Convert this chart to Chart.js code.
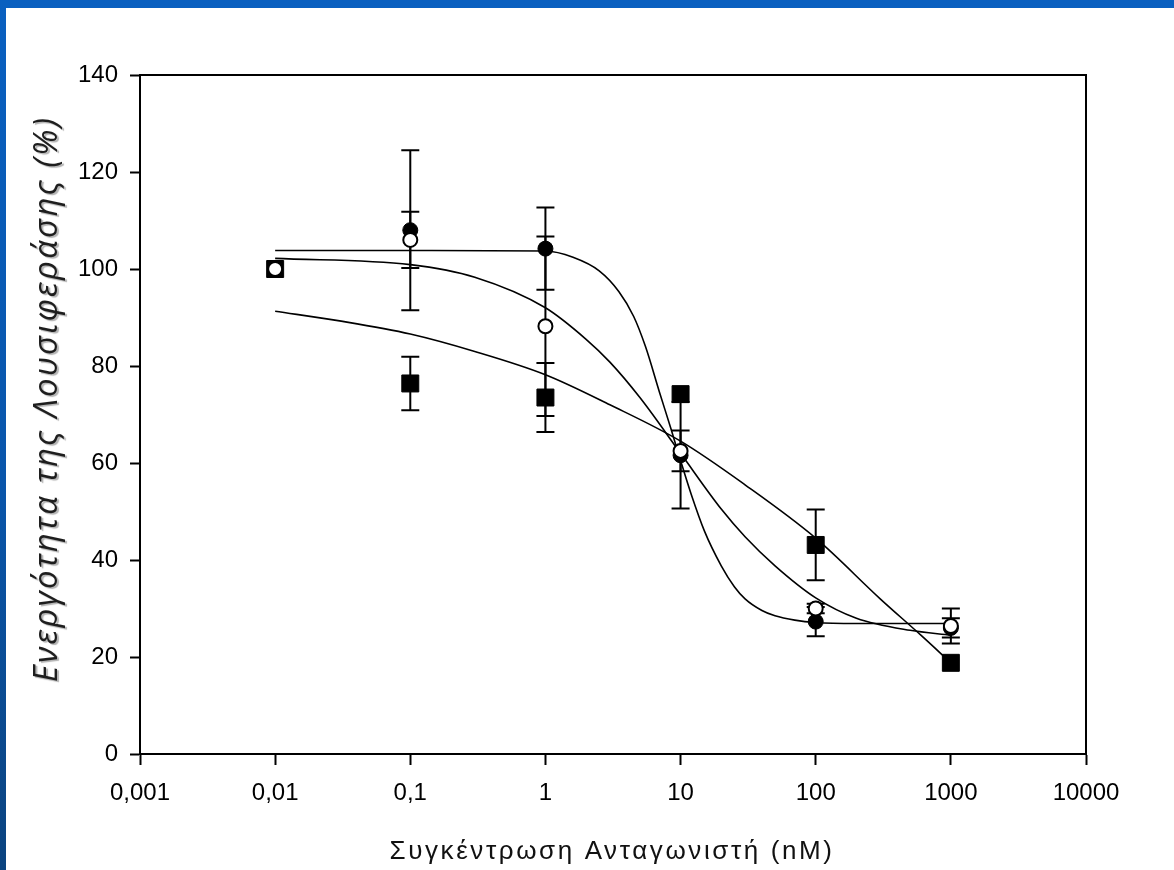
<!DOCTYPE html>
<html lang="el">
<head>
<meta charset="utf-8">
<title>Ενεργότητα της Λουσιφεράσης</title>
<script src="https://cdn.jsdelivr.net/npm/chart.js@4.4.1/dist/chart.umd.min.js"></script>
<style>
  html, body { margin: 0; padding: 0; width: 1174px; height: 870px; overflow: hidden; }
  body { position: relative; background: linear-gradient(180deg, #0a60c0 0%, #0a56ab 55%, #0b437f 100%); }
  #frame { position: absolute; left: 6px; top: 8px; width: 1168px; height: 862px; background: #ffffff; }
  canvas { display: block; }
</style>
</head>
<body>
<div id="frame"><canvas id="chart" width="1168" height="862"></canvas></div>
<script>
// Antagonist concentrations (nM) and measured luciferase activity (%)
const concentrations = [0.01, 0.1, 1, 10, 100, 1000];

const filledMeans  = [100, 108, 104.2, 61.6, 27.3, 26];
const filledErrors = [0, 16.5, 8.5, 11, 3, 2];

const openMeans  = [100, 106, 88.2, 62.5, 30, 26.4];
const openErrors = [0, 5.8, 18.5, 4.2, 1, 3.6];

const squareMeans  = [100, 76.4, 73.5, 74.2, 43.1, 18.8];
const squareErrors = [0, 5.5, 7.1, 0, 7.3, 0];

// Fitted dose-response curves
const fitFilledX = [0.01, 0.1, 1, 1.6, 2.5, 3.5, 4.5, 5.5, 7, 8.5, 10, 12, 15, 20, 25, 30, 40, 50, 70, 100, 200, 1000];
const fitFilledY = [103.8, 103.8, 103.7, 102.4, 99.6, 95.3, 90.2, 84, 74.5, 67, 60.5, 53.5, 46, 38.8, 34.5, 32, 29.6, 28.5, 27.6, 27.1, 26.9, 26.9];

const fitOpenX = [0.01, 0.1, 0.3, 1, 2, 3, 5, 10, 20, 30, 50, 100, 200, 500, 1000];
const fitOpenY = [102.2, 100.9, 98.3, 92, 85.5, 80.8, 73.5, 62, 50.5, 44.8, 38.8, 32.2, 28, 25.5, 24.5];

const fitSquareX = [0.01, 0.03, 0.1, 0.3, 1, 3, 10, 30, 100, 300, 600, 1000];
const fitSquareY = [91.3, 89.3, 86.6, 83, 78.2, 72, 64.5, 55.5, 44.5, 32, 24.5, 18.8];

// Axis ticks
const xTickValues = [0.001, 0.01, 0.1, 1, 10, 100, 1000, 10000];
const xTickLabels = ['0,001', '0,01', '0,1', '1', '10', '100', '1000', '10000'];
const yTickValues = [0, 20, 40, 60, 80, 100, 120, 140];

const xTitle = 'Συγκέντρωση Ανταγωνιστή (nM)';
const yTitle = 'Ενεργότητα της Λουσιφεράσης (%)';

const pairs = (xs, ys) => xs.map((x, i) => ({ x: x, y: ys[i] }));

// Vertical error bars with caps, drawn beneath the markers
const errorBars = {
  id: 'errorBars',
  beforeDatasetsDraw(chart) {
    const { ctx, scales: { x, y } } = chart;
    ctx.save();
    ctx.strokeStyle = '#000';
    ctx.lineWidth = 2;
    chart.data.datasets.forEach(ds => {
      if (!ds.errors) return;
      ds.data.forEach((p, j) => {
        const e = ds.errors[j];
        if (!e) return;
        const px = x.getPixelForValue(p.x);
        const top = y.getPixelForValue(p.y + e);
        const bot = y.getPixelForValue(p.y - e);
        ctx.beginPath();
        ctx.moveTo(px, top); ctx.lineTo(px, bot);
        ctx.moveTo(px - 9, top); ctx.lineTo(px + 9, top);
        ctx.moveTo(px - 9, bot); ctx.lineTo(px + 9, bot);
        ctx.stroke();
      });
    });
    ctx.restore();
  }
};

// Closing frame on the top and right of the plot area, plus axis titles
const frameAndTitles = {
  id: 'frameAndTitles',
  afterDraw(chart) {
    const { ctx, chartArea: a } = chart;
    ctx.save();
    ctx.strokeStyle = '#000';
    ctx.lineWidth = 2;
    ctx.beginPath();
    ctx.moveTo(a.left, a.top);
    ctx.lineTo(a.right, a.top);
    ctx.lineTo(a.right, a.bottom);
    ctx.stroke();

    ctx.fillStyle = '#111';
    ctx.font = '26px "Liberation Sans", Arial, sans-serif';
    ctx.textAlign = 'center';
    ctx.textBaseline = 'middle';
    ctx.letterSpacing = '2.6px';
    ctx.fillText(xTitle, 606, 844);
    ctx.restore();

    ctx.save();
    ctx.translate(42, 391);
    ctx.rotate(-Math.PI / 2);
    ctx.shadowColor = 'rgba(0,0,0,0.3)';
    ctx.shadowOffsetX = 1.5;
    ctx.shadowOffsetY = 1.5;
    ctx.shadowBlur = 1;
    ctx.fillStyle = '#1e1e1e';
    ctx.font = 'italic 33px "Open Sans", sans-serif';
    ctx.letterSpacing = '2.2px';
    ctx.textAlign = 'center';
    ctx.textBaseline = 'middle';
    ctx.fillText(yTitle, 0, 0);
    ctx.restore();
  }
};

new Chart(document.getElementById('chart'), {
  type: 'scatter',
  data: {
    datasets: [
      {
        label: 'open',
        data: pairs(concentrations, openMeans),
        errors: openErrors,
        pointStyle: 'circle',
        pointRadius: 7,
        pointBackgroundColor: '#ffffff',
        pointBorderColor: '#000000',
        pointBorderWidth: 2,
        showLine: false,
        order: 1
      },
      {
        label: 'filled',
        data: pairs(concentrations, filledMeans),
        errors: filledErrors,
        pointStyle: 'circle',
        pointRadius: 7.5,
        pointBackgroundColor: '#000000',
        pointBorderColor: '#000000',
        pointBorderWidth: 1,
        showLine: false,
        order: 2
      },
      {
        label: 'square',
        data: pairs(concentrations, squareMeans),
        errors: squareErrors,
        pointStyle: 'rect',
        pointRadius: 12,
        pointBackgroundColor: '#000000',
        pointBorderColor: '#000000',
        pointBorderWidth: 1,
        showLine: false,
        order: 3
      },
      {
        label: 'fit filled',
        data: pairs(fitFilledX, fitFilledY),
        showLine: true,
        pointRadius: 0,
        borderColor: '#000',
        borderWidth: 1.6,
        cubicInterpolationMode: 'monotone',
        order: 4
      },
      {
        label: 'fit open',
        data: pairs(fitOpenX, fitOpenY),
        showLine: true,
        pointRadius: 0,
        borderColor: '#000',
        borderWidth: 1.6,
        cubicInterpolationMode: 'monotone',
        order: 5
      },
      {
        label: 'fit square',
        data: pairs(fitSquareX, fitSquareY),
        showLine: true,
        pointRadius: 0,
        borderColor: '#000',
        borderWidth: 1.6,
        cubicInterpolationMode: 'monotone',
        order: 6
      }
    ]
  },
  options: {
    responsive: false,
    animation: false,
    devicePixelRatio: 1,
    layout: { padding: { left: 0, top: 67, right: 88, bottom: 0 } },
    plugins: { legend: { display: false }, tooltip: { enabled: false } },
    scales: {
      x: {
        type: 'logarithmic',
        min: 0.001,
        max: 10000,
        afterBuildTicks: s => { s.ticks = xTickValues.map(v => ({ value: v })); },
        afterFit: s => { s.height = 116; },
        ticks: {
          autoSkip: false,
          maxRotation: 0,
          padding: 14,
          color: '#000',
          font: { family: '"Liberation Sans", Arial, sans-serif', size: 24 },
          callback: (v, i) => xTickLabels[i]
        },
        grid: { drawOnChartArea: false, drawTicks: true, tickLength: 11, tickWidth: 2, tickColor: '#000' },
        border: { display: true, color: '#000', width: 2 }
      },
      y: {
        min: 0,
        max: 140,
        afterBuildTicks: s => { s.ticks = yTickValues.map(v => ({ value: v })); },
        afterFit: s => { s.width = 134; },
        ticks: {
          padding: 12,
          color: '#000',
          font: { family: '"Liberation Sans", Arial, sans-serif', size: 24 }
        },
        grid: { drawOnChartArea: false, drawTicks: true, tickLength: 10, tickWidth: 2, tickColor: '#000' },
        border: { display: true, color: '#000', width: 2 }
      }
    }
  },
  plugins: [errorBars, frameAndTitles]
});
</script>
</body>
</html>
